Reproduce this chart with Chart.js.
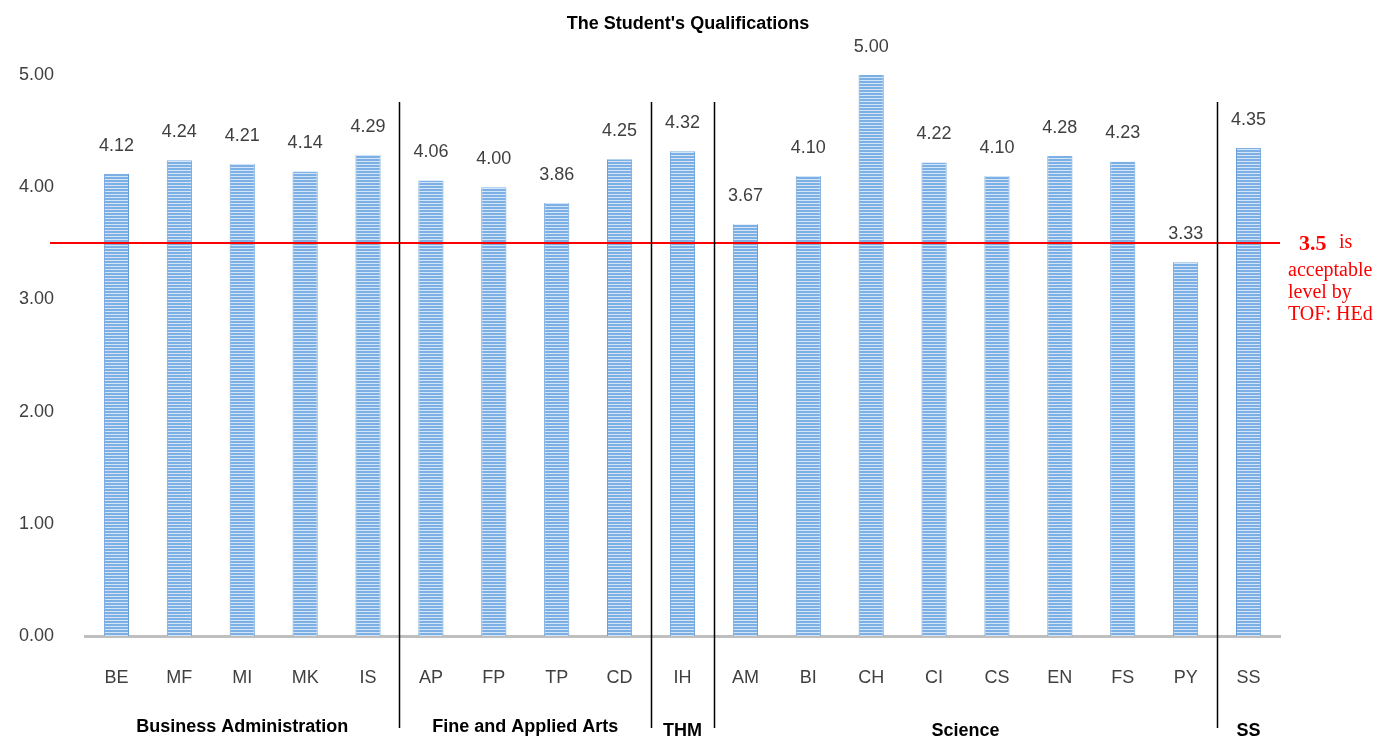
<!DOCTYPE html>
<html>
<head>
<meta charset="utf-8">
<script src="https://cdn.jsdelivr.net/npm/chart.js@4.4.1/dist/chart.umd.min.js"></script>
<style>
  html, body { margin: 0; padding: 0; background: #fff; }
  #wrap { width: 1377px; height: 740px; }
</style>
</head>
<body>
<div id="wrap"><canvas id="qualChart"></canvas></div>
<script>
// programs along the x-axis
var programs = ['BE', 'MF', 'MI', 'MK', 'IS', 'AP', 'FP', 'TP', 'CD', 'IH', 'AM', 'BI', 'CH', 'CI', 'CS', 'EN', 'FS', 'PY', 'SS'];
// mean scores
var scores = [4.12, 4.24, 4.21, 4.14, 4.29, 4.06, 4.00, 3.86, 4.25, 4.32, 3.67, 4.10, 5.00, 4.22, 4.10, 4.28, 4.23, 3.33, 4.35];
// faculty groups: name, first and last program index
var groupNames = ['Business Administration', 'Fine and Applied Arts', 'THM', 'Science', 'SS'];
var groupStart = [0, 5, 9, 10, 18];
var groupEnd = [4, 8, 9, 17, 18];
var acceptable = 3.5;
var yTicks = [0, 1, 2, 3, 4, 5];

var sans = '"Liberation Sans", Arial, sans-serif';
var serif = '"Liberation Serif", "Times New Roman", serif';

function stripes(){
    var c = document.createElement('canvas');
    c.width = 4; c.height = 3;
    var g = c.getContext('2d');
    g.fillStyle = '#d3e5f6';
    g.fillRect(0, 0, 4, 3);
    g.fillStyle = '#7cb0e4';
    g.fillRect(0, 0, 4, 2);
    return g.createPattern(c, 'repeat');
}

var extras = {
    id: 'extras',
    afterDraw: function(chart){
        var ctx = chart.ctx;
        var x = chart.scales.x, y = chart.scales.y;
        var area = chart.chartArea;
        ctx.save();
        // title
        ctx.fillStyle = '#000000';
        ctx.font = 'bold 18px ' + sans;
        ctx.textAlign = 'center';
        ctx.textBaseline = 'middle';
        ctx.fillText("The Student's Qualifications", 688, 24);
        // value labels
        ctx.fillStyle = '#404040';
        ctx.font = '18px ' + sans;
        scores.forEach(function(v, i){
            ctx.fillText(v.toFixed(2), x.getPixelForValue(i), y.getPixelForValue(v) - 28);
        });
        // acceptable level line
        var ly = Math.round(y.getPixelForValue(acceptable));
        ctx.strokeStyle = '#ff0000';
        ctx.lineWidth = 2;
        ctx.beginPath();
        ctx.moveTo(50, ly);
        ctx.lineTo(area.right, ly);
        ctx.stroke();
        ctx.fillStyle = '#ff0000';
        ctx.textAlign = 'left';
        ctx.textBaseline = 'middle';
        ctx.font = 'bold 22px ' + serif;
        ctx.fillText('3.5', 1299, ly + 1);
        ctx.font = '20px ' + serif;
        ctx.fillText('is', 1339, ly);
        ctx.fillText('acceptable', 1288, ly + 28);
        ctx.fillText('level by', 1288, ly + 50);
        ctx.fillText('TOF: HEd', 1288, ly + 72);
        // group dividers and names
        ctx.strokeStyle = '#000000';
        ctx.lineWidth = 1.5;
        var half = (x.getPixelForValue(1) - x.getPixelForValue(0)) / 2;
        for (var k = 1; k < groupStart.length; k++){
            var dx = Math.round(x.getPixelForValue(groupStart[k]) - half) + 0.5;
            ctx.beginPath();
            ctx.moveTo(dx, 102);
            ctx.lineTo(dx, 728);
            ctx.stroke();
        }
        ctx.fillStyle = '#000000';
        ctx.font = 'bold 18px ' + sans;
        ctx.textAlign = 'center';
        var nameY = [727, 727, 731, 731, 731];
        groupNames.forEach(function(n, k){
            var cx = (x.getPixelForValue(groupStart[k]) + x.getPixelForValue(groupEnd[k])) / 2;
            ctx.fillText(n, cx, nameY[k]);
        });
        ctx.restore();
    }
};

window.onload = function(){
    var ctx = document.getElementById('qualChart');
    var qualChart = new Chart(ctx, {
        type: 'bar',
        data: {
            labels: programs,
            datasets: [
            {
                data: scores,
                backgroundColor: stripes(),
                borderColor: '#6a9fd6',
                borderWidth: {left: 1, right: 1, top: 0, bottom: 0},
                barPercentage: 0.4,
                categoryPercentage: 1.0
            }
            ]
        },
        options: {
            responsive: true,
            maintainAspectRatio: false,
            animation: false,
            layout: { padding: { top: 75, right: 97, left: 0, bottom: 0 } },
            plugins: {
                legend: { display: false },
                tooltip: { enabled: false },
                title: { display: false }
            },
            scales: {
                x: {
                    grid: { display: false, drawTicks: false },
                    border: { color: '#bfbfbf', width: 3 },
                    ticks: {
                        color: '#404040',
                        padding: 31,
                        font: { family: sans, size: 18 }
                    },
                    afterFit: function(s){ s.height = 104; }
                },
                y: {
                    min: 0,
                    max: 5,
                    afterBuildTicks: function(s){ s.ticks = yTicks.map(function(v){ return {value: v}; }); },
                    grid: { display: false, drawTicks: false },
                    border: { display: false },
                    ticks: {
                        color: '#404040',
                        padding: 31,
                        font: { family: sans, size: 18 },
                        callback: function(v){ return v.toFixed(2); }
                    },
                    afterFit: function(s){ s.width = 85; }
                }
            }
        },
        plugins: [extras]
    });
};
</script>
</body>
</html>
